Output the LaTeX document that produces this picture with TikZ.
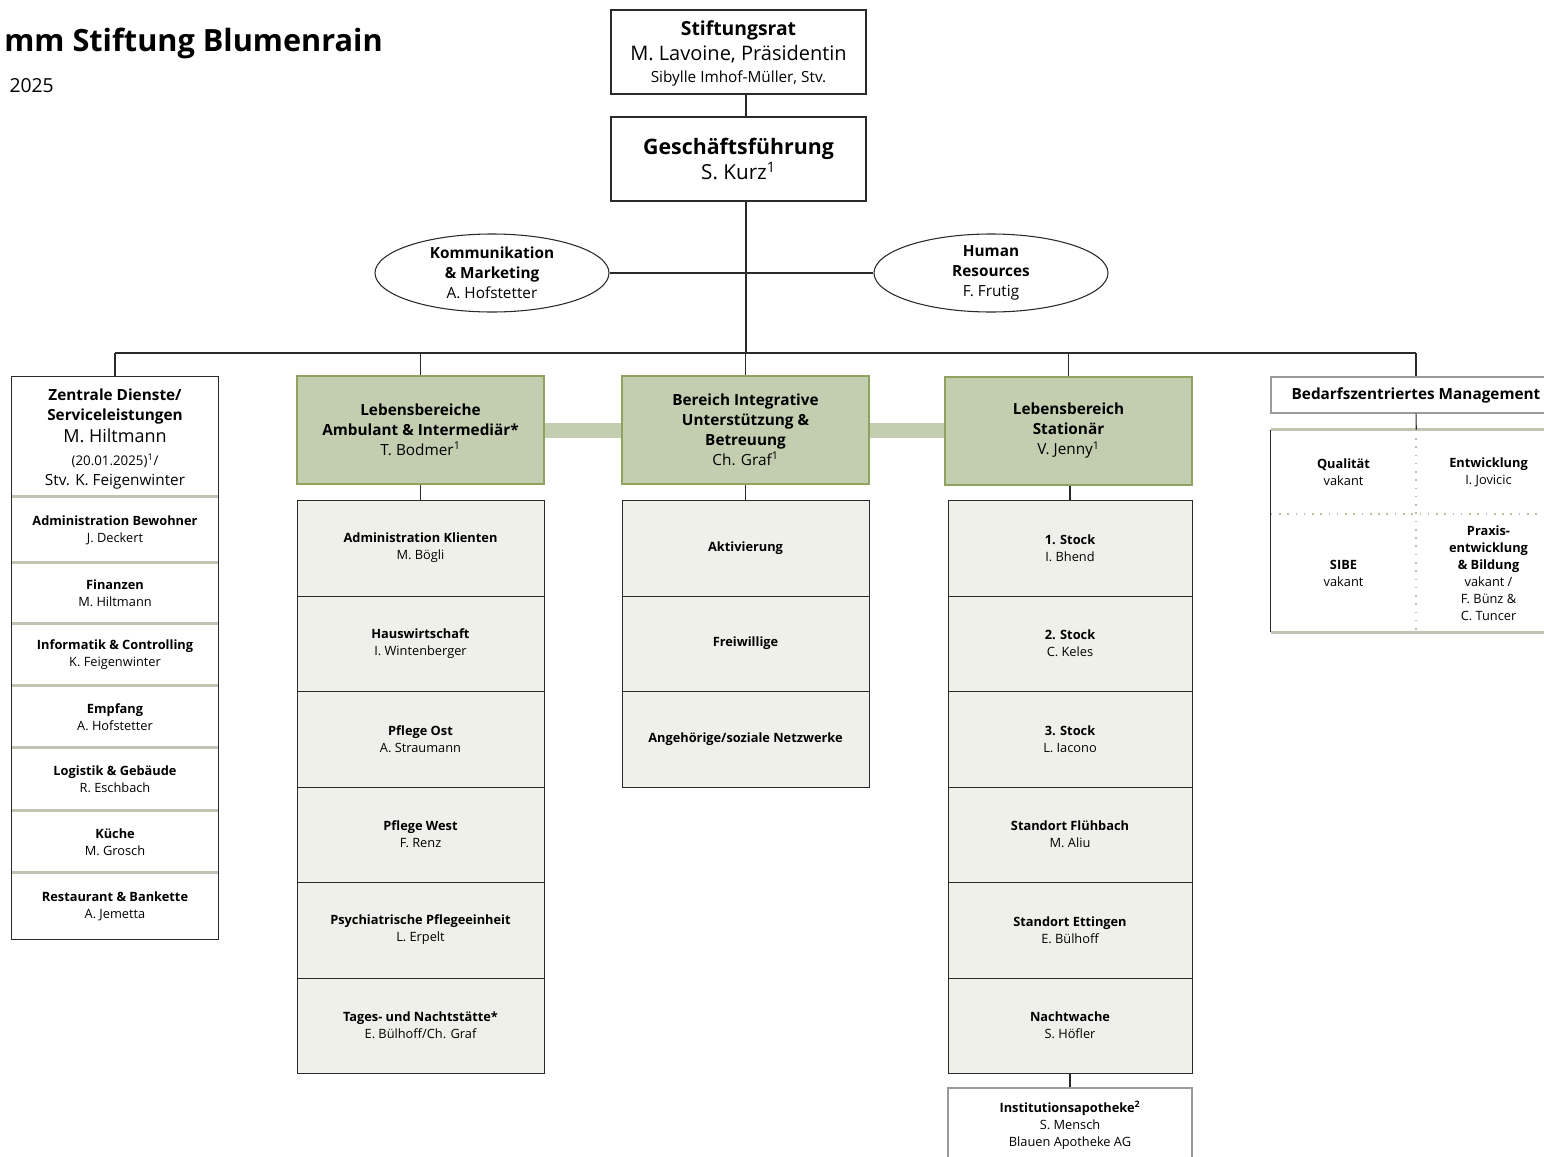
\documentclass[tikz,border=0pt]{standalone}
\usepackage{fontspec}
\setmainfont{Open Sans}
\usetikzlibrary{shapes.geometric}
\definecolor{gfill}{HTML}{C3CDAF}
\definecolor{gdraw}{HTML}{8FA35F}
\definecolor{sfill}{HTML}{F0F0EA}
\definecolor{sepc}{HTML}{BFC4B3}
\definecolor{dotc}{HTML}{B9C2A0}
\definecolor{linec}{HTML}{2A2A2A}
\definecolor{greyb}{HTML}{9A9A9A}
\newcommand\fsz[2]{\fontsize{#1}{#2}\selectfont}
\begin{document}
\begin{tikzpicture}[x=0.75pt,y=-0.75pt,
  wh/.style 2 args={minimum width=#1*0.75pt, minimum height=#2*0.75pt},
  topbox/.style={draw=linec, line width=0.8pt, fill=white, inner sep=0pt, align=center},
  ell/.style={ellipse, draw=linec, line width=0.8pt, fill=white, inner sep=0pt, align=center, font=\fsz{11.5}{15}},
  green/.style={draw=gdraw, line width=0.8pt, fill=gfill, inner sep=0pt, align=center, wh={247}{108}, font=\fsz{11.5}{15}},
  sub/.style={draw=linec, line width=0.65pt, fill=sfill, inner sep=0pt, align=center, font=\fsz{9.6}{12.75}},
  cell/.style={inner sep=0pt, align=center, font=\fsz{9.6}{12.75}},
  greybox/.style={draw=greyb, line width=0.9pt, fill=white, inner sep=0pt, align=center},
  conn/.style={draw=linec, line width=0.8pt},
  bar/.style={draw=gfill, line width=11.25pt},
  sepline/.style={draw=sepc, line width=2.2pt},
  dotline/.style={draw=dotc, line width=1.2pt, dash pattern=on 1.2pt off 5pt}
]
\useasboundingbox (0,0) rectangle (1544,1156);

% title
\node[anchor=base east, inner sep=0pt, font=\fsz{23}{28}\bfseries] (title) at (383,51) {mm Stiftung Blumenrain};
\node[anchor=base east, inner sep=0pt, font=\fsz{14.5}{18}] (date) at (54,92) {2025};

% top
\node[topbox, wh={255}{84}, font=\fsz{14.5}{17}, text depth=-1pt] (sr) at (738.5,52) {\bfseries Stiftungsrat\\[1.75pt]\fsz{15}{17}M. Lavoine, Präsidentin\\[-0.5pt]\fsz{11.5}{17}Sibylle Imhof-Müller, Stv.};
\node[topbox, wh={255}{84}, font=\fsz{16}{19}] (gf) at (738.5,159) {\bfseries Geschäftsführung\\\fsz{15.5}{19}S. Kurz\textsuperscript{1}};
\coordinate (spine) at (746,0);
\coordinate (busy) at (0,353);

\node[ell, wh={234}{78}] (km) at (492,273) {\bfseries Kommunikation\\\bfseries \& Marketing\\A. Hofstetter};
\node[ell, wh={234}{78}] (hr) at (991,273) {\bfseries Human\\\bfseries Resources\\F. Frutig};

\draw[conn] (sr.south -| spine) -- (gf.north -| spine);
\draw[conn] (km.east) -- (hr.west);
\draw[conn] (gf.south -| spine) -- (spine |- busy);

% left column
\node[cell, wh={206}{120}, font=\fsz{11.5}{15}, text depth=-1pt] (zd) at (115,437) {\bfseries Zentrale Dienste/\\\bfseries Serviceleistungen\\[1.5pt]\fsz{13.5}{15}M. Hiltmann\\[2.25pt]\fsz{10}{15}(20.01.2025)\textsuperscript{1}/\\\fsz{11.5}{15}Stv. K. Feigenwinter};
\node[cell, wh={206}{66}] (ab) at (115,530) {\bfseries Administration Bewohner\\J. Deckert};
\node[cell, wh={206}{61}] (fi) at (115,593.5) {\bfseries Finanzen\\M. Hiltmann};
\node[cell, wh={206}{62}] (ic) at (115,655) {\bfseries Informatik \& Controlling\\K. Feigenwinter};
\node[cell, wh={206}{62}] (em) at (115,717) {\bfseries Empfang\\A. Hofstetter};
\node[cell, wh={206}{63}] (lg) at (115,779.5) {\bfseries Logistik \& Gebäude\\R. Eschbach};
\node[cell, wh={206}{62}] (ku) at (115,842) {\bfseries Küche\\M. Grosch};
\node[cell, wh={206}{66}] (rb) at (115,906) {\bfseries Restaurant \& Bankette\\A. Jemetta};
\foreach \n in {ab,fi,ic,em,lg,ku,rb}{
  \draw[sepline] ([xshift=0.5pt]\n.north west) -- ([xshift=-0.5pt]\n.north east);
}
\draw[draw=linec, line width=0.7pt] (zd.north west) rectangle (rb.south east);

% green heads
\node[green] (lb) at (420.5,430) {\bfseries Lebensbereiche\\\bfseries Ambulant \& Intermediär*\\T. Bodmer\textsuperscript{1}};
\node[green] (bi) at (745.5,430) {\bfseries Bereich Integrative\\\bfseries Unterstützung \&\\\bfseries Betreuung\\Ch. Graf\textsuperscript{1}};
\node[green] (ls) at (1068.5,431) {\bfseries Lebensbereich\\\bfseries Stationär\\V. Jenny\textsuperscript{1}};
\draw[bar] (lb.east) -- (bi.west);
\draw[bar] (bi.east) -- (bi.east -| ls.west);

% right
\node[greybox, wh={290}{36}, font=\fsz{11.5}{15}\bfseries, text depth=0pt, text height=7pt] (bm) at (1416,395) {Bedarfszentriertes Management};
\node[cell, wh={145}{84}] (q) at (1343.5,472) {\bfseries Qualität\\vakant};
\node[cell, wh={145}{84}] (e) at (1488.5,472) {\bfseries Entwicklung\\I. Jovicic};
\node[cell, wh={145}{118}] (s) at (1343.5,573) {\bfseries SIBE\\vakant};
\node[cell, wh={145}{118}] (p) at (1488.5,573) {\bfseries Praxis-\\\bfseries entwicklung\\\bfseries \& Bildung\\vakant /\\F. Bünz \&\\C. Tuncer};
\draw[dotline] (q.north east) -- (s.south east);
\draw[dotline] (q.south west) -- (e.south east);
\draw[sepline] (q.north west) -- (e.north east);
\draw[sepline] (s.south west) -- (p.south east);
\draw[draw=linec, line width=0.7pt] (q.north west) -- (s.south west);
\draw[conn] (bm.south) -- (q.north east);

% bus
\draw[conn] (zd.north |- busy) -- (bm.north |- busy);
\foreach \n in {zd,lb,bi,ls,bm}{
  \draw[conn] (\n.north |- busy) -- (\n.north);
}

% column 1
\node[sub, wh={247}{96}] (c1a) at (420.5,548) {\bfseries Administration Klienten\\M. Bögli};
\node[sub, wh={247}{95}] (c1b) at (420.5,643.5) {\bfseries Hauswirtschaft\\I. Wintenberger};
\node[sub, wh={247}{96}] (c1c) at (420.5,739) {\bfseries Pflege Ost\\A. Straumann};
\node[sub, wh={247}{95}] (c1d) at (420.5,834.5) {\bfseries Pflege West\\F. Renz};
\node[sub, wh={247}{96}] (c1e) at (420.5,930) {\bfseries Psychiatrische Pflegeeinheit\\L. Erpelt};
\node[sub, wh={247}{95}] (c1f) at (420.5,1025.5) {\bfseries Tages- und Nachtstätte*\\E. Bülhoff/Ch. Graf};
\draw[conn] (lb.south) -- (c1a.north);

% column 2
\node[sub, wh={247}{96}] (c2a) at (745.5,548) {\bfseries Aktivierung};
\node[sub, wh={247}{95}] (c2b) at (745.5,643.5) {\bfseries Freiwillige};
\node[sub, wh={247}{96}] (c2c) at (745.5,739) {\bfseries Angehörige/soziale Netzwerke};
\draw[conn] (bi.south) -- (c2a.north);

% column 3
\node[sub, wh={244}{96}] (c3a) at (1070,548) {\bfseries 1. Stock\\I. Bhend};
\node[sub, wh={244}{95}] (c3b) at (1070,643.5) {\bfseries 2. Stock\\C. Keles};
\node[sub, wh={244}{96}] (c3c) at (1070,739) {\bfseries 3. Stock\\L. Iacono};
\node[sub, wh={244}{95}] (c3d) at (1070,834.5) {\bfseries Standort Flühbach\\M. Aliu};
\node[sub, wh={244}{96}] (c3e) at (1070,930) {\bfseries Standort Ettingen\\E. Bülhoff};
\node[sub, wh={244}{95}] (c3f) at (1070,1025.5) {\bfseries Nachtwache\\S. Höfler};
\draw[conn] (ls.south -| c3a.north) -- (c3a.north);
\node[greybox, wh={244}{74}, font=\fsz{9.6}{12.75}] (ia) at (1070,1125) {\bfseries Institutionsapotheke\textsuperscript{2}\\S. Mensch\\Blauen Apotheke AG};
\draw[conn] (c3f.south) -- (ia.north);
\end{tikzpicture}
\end{document}
